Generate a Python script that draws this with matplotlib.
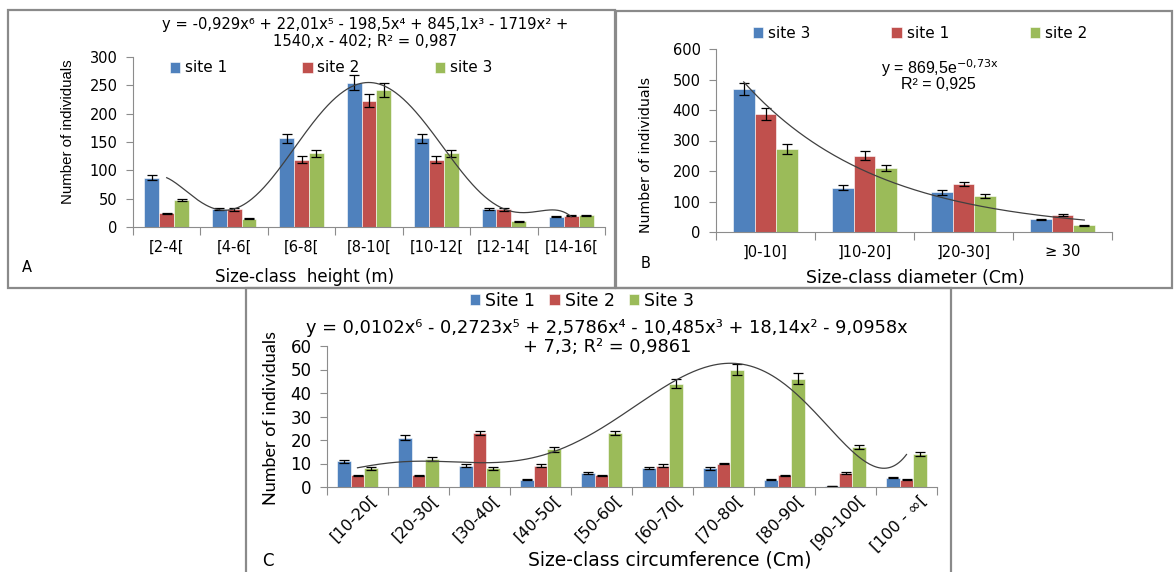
import numpy as np
import matplotlib
matplotlib.use("Agg")
import matplotlib.pyplot as plt
from matplotlib import font_manager
from matplotlib.patches import Rectangle

# ---- data ----
# A: size-class height
cats_A = ["[2-4[", "[4-6[", "[6-8[", "[8-10[", "[10-12[", "[12-14[", "[14-16["]
site1_A = [87, 32, 157, 255, 157, 32, 18]
site2_A = [24, 31, 119, 223, 119, 31, 20]
site3_A = [48, 15, 130, 242, 130, 10, 21]
err1_A = [4, 2, 8, 13, 8, 2, 1]
err2_A = [1, 2, 6, 11, 6, 2, 1]
err3_A = [2, 1, 6, 12, 6, 1, 1]

# B: size-class diameter
cats_B = ["]0-10]", "]10-20]", "]20-30]", "\u2265 30"]
site3_B = [470, 145, 130, 42]
site1_B = [386, 250, 157, 55]
site2_B = [272, 210, 117, 22]
err3_B = [20, 8, 8, 2]
err1_B = [20, 14, 7, 4]
err2_B = [15, 10, 6, 1]

# C: size-class circumference
cats_C = ["[10-20[", "[20-30[", "[30-40[", "[40-50[", "[50-60[",
          "[60-70[", "[70-80[", "[80-90[", "[90-100[", "[100 - \u221e["]
site1_C = [11, 21, 9, 3, 6, 8, 8, 3, 0.5, 4]
site2_C = [5, 5, 23, 9, 5, 9, 10, 5, 6, 3]
site3_C = [8, 12, 8, 16, 23, 44, 50, 46, 17, 14]
err1_C = [0.6, 1, 0.6, 0.2, 0.3, 0.5, 0.7, 0.2, 0, 0.2]
err2_C = [0.3, 0.3, 1, 0.6, 0.2, 0.6, 0.4, 0.3, 0.4, 0.2]
err3_C = [0.7, 0.8, 0.7, 1, 1, 2, 2.5, 2.3, 1, 0.7]

BLUE, RED, GREEN = "#4F81BD", "#C0504D", "#9BBB59"
W, H = 1175, 572

names = {f.name for f in font_manager.fontManager.ttflist}
narrow = "Liberation Sans Narrow" if "Liberation Sans Narrow" in names else "Liberation Sans"
plt.rcParams["font.family"] = ["DejaVu Sans"]

fig = plt.figure(figsize=(W / 100, H / 100), dpi=100)


def box(x0, y0, x1, y1):
    # pixel coords (top-left origin) -> figure fraction
    return [x0 / W, 1 - y1 / H, (x1 - x0) / W, (y1 - y0) / H]


def frame(x0, y0, x1, y1):
    fig.add_artist(Rectangle((x0 / W, 1 - y1 / H), (x1 - x0) / W, (y1 - y0) / H,
                             transform=fig.transFigure, fill=False,
                             edgecolor="#8a8a8a", linewidth=1.6))


def ftext(x, y, s, **kw):
    fig.text(x / W, 1 - y / H, s, **kw)


def style_axes(ax, n, ymax, step, fs):
    for s in ["top", "right"]:
        ax.spines[s].set_visible(False)
    for s in ["left", "bottom"]:
        ax.spines[s].set_color("#8c8c8c")
    ax.set_xlim(-0.5, n - 0.5)
    ax.set_ylim(0, ymax)
    ax.set_yticks(np.arange(0, ymax + 1, step))
    ax.set_xticks(np.arange(-0.5, n, 1.0))
    ax.set_xticklabels([])
    ax.tick_params(axis="x", which="major", length=6, color="#8c8c8c", direction="out")
    ax.tick_params(axis="y", length=5, color="#8c8c8c", labelsize=fs, pad=6)


def bars(ax, series, errs, colors, labels):
    x = np.arange(len(series[0]))
    w = 0.22
    for k, (vals, e, c, lab) in enumerate(zip(series, errs, colors, labels)):
        ax.bar(x + (k - 1) * w, vals, w, color=c, edgecolor="white", linewidth=0.4,
               label=lab, yerr=e, capsize=3.5,
               error_kw=dict(ecolor="black", elinewidth=0.9, capthick=0.9))
    return x


# ---------- panel A ----------
frame(8, 10, 615, 288)
axA = fig.add_axes(box(133, 57, 605, 227))
xA = bars(axA, [site1_A, site2_A, site3_A], [err1_A, err2_A, err3_A],
          [BLUE, RED, GREEN], ["site 1", "site 2", "site 3"])
style_axes(axA, len(cats_A), 300, 50, 10.5)
axA.set_xticks(xA, cats_A, minor=True, fontsize=10.5)
axA.tick_params(axis="x", which="minor", length=0, pad=9)
# 6th order polynomial trend line fitted to site 1
pA = np.polyfit(np.arange(1, 8), site1_A, 6)
tA = np.linspace(1, 7, 300)
axA.plot(tA - 1, np.polyval(pA, tA), color="#404040", linewidth=0.9)
fig.legend(*axA.get_legend_handles_labels(), loc="center", bbox_to_anchor=(331 / W, 1 - 68 / H),
           ncol=3, frameon=False, fontsize=11, handlelength=0.7, handleheight=0.7,
           handletextpad=0.3, columnspacing=4.9)
ftext(68, 132, "Number of individuals", family=[narrow, "DejaVu Sans"], fontsize=10.8,
      rotation=90, ha="center", va="center")
ftext(365, 24, "y = -0,929x\u2076 + 22,01x\u2075 - 198,5x\u2074 + 845,1x\u00b3 - 1719x\u00b2 +",
      ha="center", va="center", fontsize=10.6)
ftext(365, 42, "1540,x - 402; R\u00b2 = 0,987", ha="center", va="center", fontsize=10.6)
ftext(305, 277, "Size-class  height (m)", ha="center", va="center", fontsize=12)
ftext(27, 268, "A", ha="center", va="center", fontsize=10.5)

# ---------- panel B ----------
frame(616, 11, 1172, 288)
axB = fig.add_axes(box(716, 49, 1112, 232))
xB = bars(axB, [site3_B, site1_B, site2_B], [err3_B, err1_B, err2_B],
          [BLUE, RED, GREEN], ["site 3", "site 1", "site 2"])
style_axes(axB, len(cats_B), 600, 100, 10.5)
axB.set_xticks(xB, cats_B, minor=True, fontsize=10.5)
axB.tick_params(axis="x", which="minor", length=0, pad=9)
# exponential trend line fitted to site 3
bB, aB = np.polyfit(np.arange(1, 5), np.log(site3_B), 1)
tB = np.linspace(0.78, 4.22, 200)
axB.plot(tB - 1, np.exp(aB) * np.exp(bB * tB), color="#404040", linewidth=0.9)
fig.legend(*axB.get_legend_handles_labels(), loc="center", bbox_to_anchor=(920 / W, 1 - 33 / H),
           ncol=3, frameon=False, fontsize=11, handlelength=0.7, handleheight=0.7,
           handletextpad=0.3, columnspacing=5.3)
ftext(646, 155, "Number of individuals", fontsize=10.2, rotation=90, ha="center", va="center")
ftext(940, 68, "y = 869,5e$^{\\mathrm{-0{,}73x}}$", ha="center", va="center", fontsize=11.5,
      family=["Liberation Sans", "DejaVu Sans"])
ftext(938, 85, "R\u00b2 = 0,925", ha="center", va="center", fontsize=11.5,
      family=["Liberation Sans", "DejaVu Sans"])
ftext(915, 278, "Size-class diameter (Cm)", ha="center", va="center", fontsize=12.5)
ftext(646, 263, "B", ha="center", va="center", fontsize=10.5)

# ---------- panel C ----------
frame(246, 288, 951, 580)
axC = fig.add_axes(box(327, 346, 937, 487))
xC = bars(axC, [site1_C, site2_C, site3_C], [err1_C, err2_C, err3_C],
          [BLUE, RED, GREEN], ["Site 1", "Site 2", "Site 3"])
style_axes(axC, len(cats_C), 60, 10, 12)
axC.set_xticks(xC + 0.2, cats_C, minor=True, fontsize=11.5, rotation=45,
               ha="right", rotation_mode="anchor")
axC.tick_params(axis="x", which="minor", length=0, pad=4)
# 6th order polynomial trend line fitted to site 3
pC = np.polyfit(np.arange(1, 11), site3_C, 6)
tC = np.linspace(1, 10, 300)
axC.plot(tC - 1, np.polyval(pC, tC), color="#404040", linewidth=0.9)
fig.legend(*axC.get_legend_handles_labels(), loc="center", bbox_to_anchor=(582 / W, 1 - 301 / H),
           ncol=3, frameon=False, fontsize=12.5, handlelength=0.6, handleheight=0.6,
           handletextpad=0.3, columnspacing=0.8)
ftext(271, 418, "Number of individuals", family=["Lato", "DejaVu Sans"], fontsize=13,
      rotation=90, ha="center", va="center")
ftext(607, 328, "y = 0,0102x\u2076 - 0,2723x\u2075 + 2,5786x\u2074 - 10,485x\u00b3 + 18,14x\u00b2 - 9,0958x",
      ha="center", va="center", fontsize=12.8)
ftext(607, 347, "+ 7,3; R\u00b2 = 0,9861", ha="center", va="center", fontsize=12.8)
ftext(670, 560, "Size-class circumference (Cm)", ha="center", va="center", fontsize=13.5)
ftext(268, 561, "C", ha="center", va="center", fontsize=12)

fig.savefig("out.png", dpi=100)
